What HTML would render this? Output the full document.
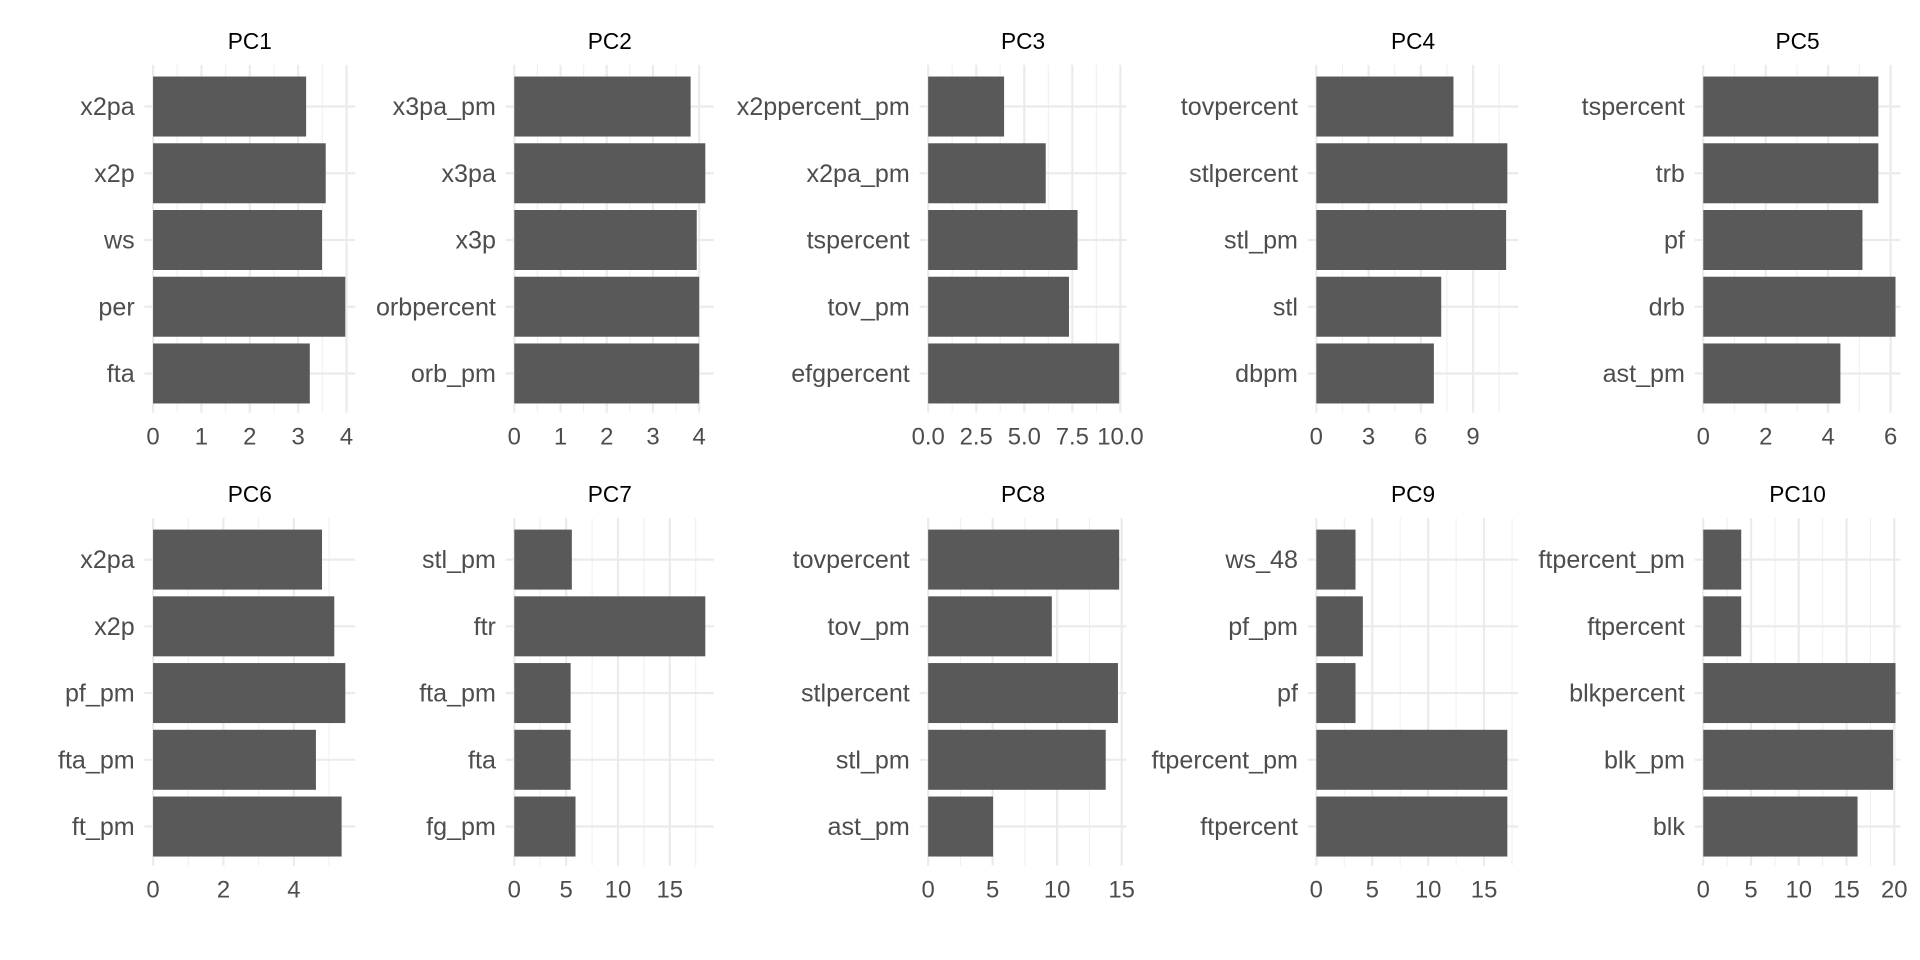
<!DOCTYPE html>
<html><head><meta charset="utf-8"><style>
html,body{margin:0;padding:0;background:#fff;}
svg{display:block;}
text{font-family:"Liberation Sans",sans-serif;}
</style></head><body>
<svg id="s" width="1920" height="960" viewBox="0 0 1568 784" xmlns="http://www.w3.org/2000/svg">
<rect width="1568" height="784" fill="#fff"/>
</svg>
<script>
const P=[
 {t:"PC1",row:0,L:118,R:290,z:125,tv:4,tx:283,ticks:[0,1,2,3,4],lab:["0","1","2","3","4"],minor:[0.5,1.5,2.5,3.5],cats:["x2pa","x2p","ws","per","fta"],ends:[250,266,263,282,253]},
 {t:"PC2",row:0,L:413,R:583,z:420,tv:4,tx:571,ticks:[0,1,2,3,4],lab:["0","1","2","3","4"],minor:[0.5,1.5,2.5,3.5],cats:["x3pa_pm","x3pa","x3p","orbpercent","orb_pm"],ends:[564,576,569,571,571]},
 {t:"PC3",row:0,L:751,R:920,z:758,tv:10,tx:915,ticks:[0,2.5,5,7.5,10],lab:["0.0","2.5","5.0","7.5","10.0"],minor:[1.25,3.75,6.25,8.75],cats:["x2ppercent_pm","x2pa_pm","tspercent","tov_pm","efgpercent"],ends:[820,854,880,873,914]},
 {t:"PC4",row:0,L:1068,R:1240,z:1075,tv:9,tx:1203,ticks:[0,3,6,9],lab:["0","3","6","9"],minor:[1.5,4.5,7.5,10.5],cats:["tovpercent","stlpercent","stl_pm","stl","dbpm"],ends:[1187,1231,1230,1177,1171]},
 {t:"PC5",row:0,L:1384,R:1552,z:1391,tv:6,tx:1544,ticks:[0,2,4,6],lab:["0","2","4","6"],minor:[1,3,5],cats:["tspercent","trb","pf","drb","ast_pm"],ends:[1534,1534,1521,1548,1503]},
 {t:"PC6",row:1,L:118,R:290,z:125,tv:4,tx:240,ticks:[0,2,4],lab:["0","2","4"],minor:[1,3,5],cats:["x2pa","x2p","pf_pm","fta_pm","ft_pm"],ends:[263,273,282,258,279]},
 {t:"PC7",row:1,L:413,R:583,z:420,tv:15,tx:547,ticks:[0,5,10,15],lab:["0","5","10","15"],minor:[2.5,7.5,12.5,17.5],cats:["stl_pm","ftr","fta_pm","fta","fg_pm"],ends:[467,576,466,466,470]},
 {t:"PC8",row:1,L:751,R:920,z:758,tv:15,tx:916,ticks:[0,5,10,15],lab:["0","5","10","15"],minor:[2.5,7.5,12.5],cats:["tovpercent","tov_pm","stlpercent","stl_pm","ast_pm"],ends:[914,859,913,903,811]},
 {t:"PC9",row:1,L:1068,R:1240,z:1075,tv:15,tx:1212,ticks:[0,5,10,15],lab:["0","5","10","15"],minor:[2.5,7.5,12.5,17.5],cats:["ws_48","pf_pm","pf","ftpercent_pm","ftpercent"],ends:[1107,1113,1107,1231,1231]},
 {t:"PC10",row:1,L:1384,R:1552,z:1391,tv:20,tx:1547,ticks:[0,5,10,15,20],lab:["0","5","10","15","20"],minor:[2.5,7.5,12.5,17.5],cats:["ftpercent_pm","ftpercent","blkpercent","blk_pm","blk"],ends:[1422,1422,1548,1546,1517]}
];
const s=document.getElementById('s');
let h='<rect width="1568" height="784" fill="#fff"/>';
for(const p of P){
 const off=p.row*370;
 const top=53+off,bot=337+off;
 const u=(p.tx-p.z)/p.tv;
 const X=v=>p.z+v*u;
 for(const m of p.minor){const x=X(m);if(x<p.R)h+=`<line x1="${x}" x2="${x}" y1="${top}" y2="${bot}" stroke="#f0f0f0" stroke-width="0.9"/>`;}
 for(const t of p.ticks){const x=X(t);h+=`<line x1="${x}" x2="${x}" y1="${top}" y2="${bot}" stroke="#ebebeb" stroke-width="1.8"/>`;}
 const cy=[87,141.5,196,250.5,305];
 cy.forEach(c=>{const y=c+off;h+=`<line x1="${p.L}" x2="${p.R}" y1="${y}" y2="${y}" stroke="#ebebeb" stroke-width="1.8"/>`;});
 cy.forEach((c,i)=>{const y=c+off;h+=`<rect x="${p.z}" y="${y-24.5}" width="${p.ends[i]-p.z}" height="49" fill="#595959"/>`;
  h+=`<text x="${p.L-8}" y="${y+7}" font-size="20.5" fill="#4d4d4d" text-anchor="end">${p.cats[i]}</text>`;});
 p.ticks.forEach((t,i)=>{h+=`<text x="${X(t)}" y="${bot+26}" font-size="19.5" fill="#4d4d4d" text-anchor="middle">${p.lab[i]}</text>`;});
 h+=`<text x="${(p.L+p.R)/2}" y="${40+off}" font-size="18.5" fill="#000" text-anchor="middle">${p.t}</text>`;
}
s.innerHTML=h;
</script>
</body></html>
